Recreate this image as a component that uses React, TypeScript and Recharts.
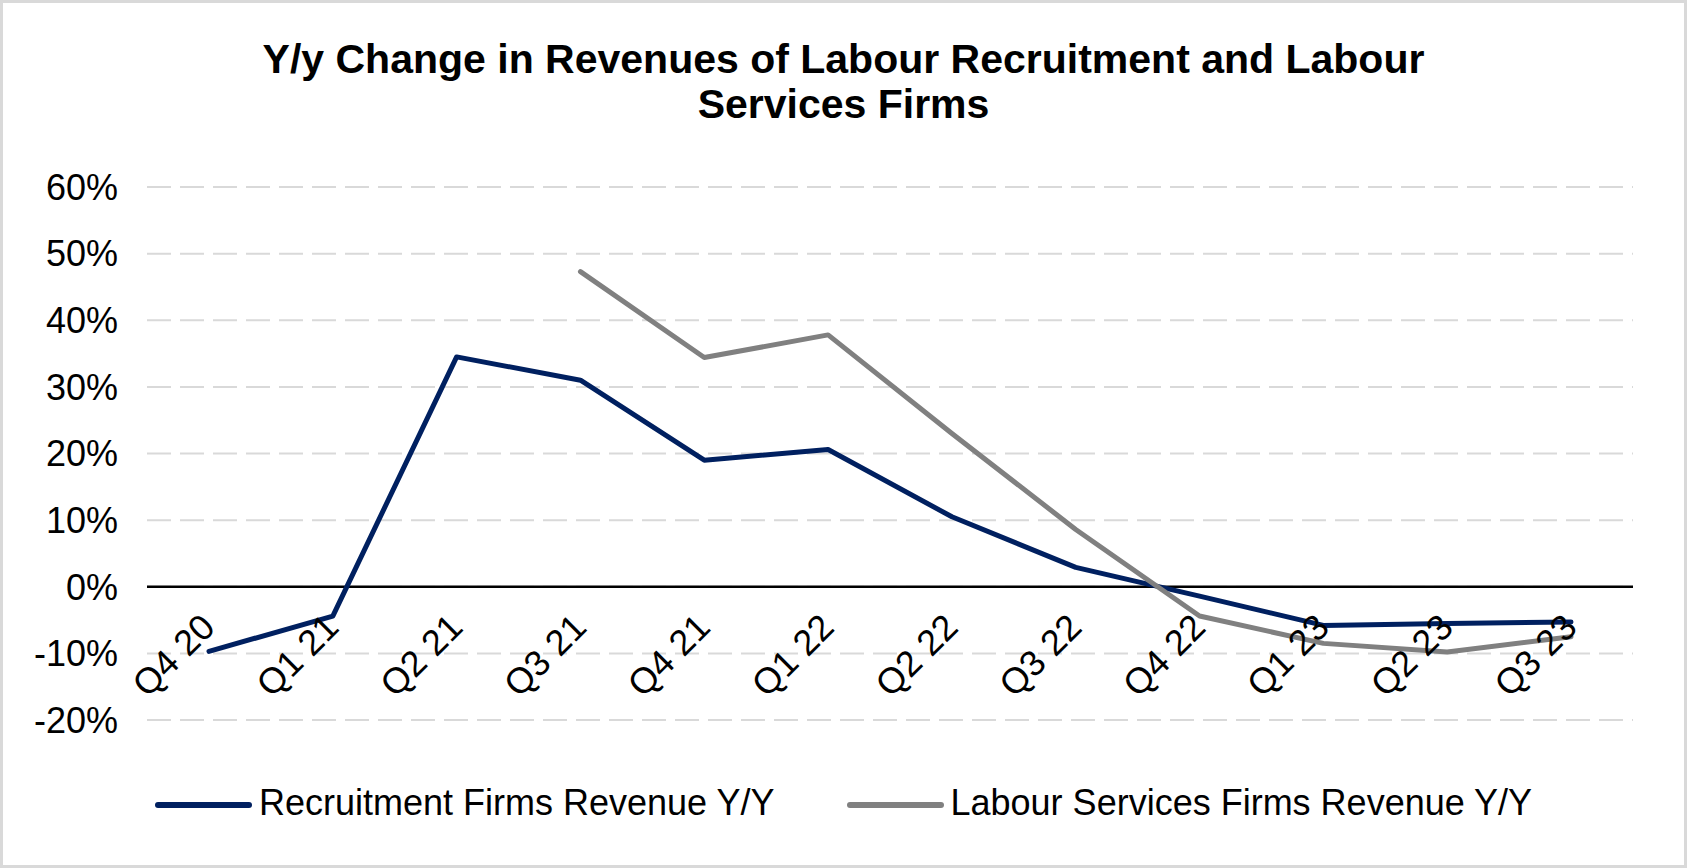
import { LineChart, Line, XAxis, YAxis, CartesianGrid, ReferenceLine } from 'recharts';

const quarters = ['Q4 20', 'Q1 21', 'Q2 21', 'Q3 21', 'Q4 21', 'Q1 22', 'Q2 22', 'Q3 22', 'Q4 22', 'Q1 23', 'Q2 23', 'Q3 23'];
const recruitmentRevenue = [-9.7, -4.4, 34.5, 31.0, 19.0, 20.6, 10.5, 2.9, -1.4, -5.8, -5.5, -5.3];
const labourServicesRevenue = [null, null, null, 47.3, 34.4, 37.8, 23.0, 8.6, -4.4, -8.5, -9.8, -7.5];
const yTicks = [-20, -10, 0, 10, 20, 30, 40, 50, 60];

const seriesNames = ['Recruitment Firms Revenue Y/Y', 'Labour Services Firms Revenue Y/Y'];
const seriesColors = ['#002060', '#808080'];
const titleLines = ['Y/y Change in Revenues of Labour Recruitment and Labour', 'Services Firms'];

const W = 1687;
const H = 868;
const FONT = "'Liberation Sans', Arial, Helvetica, sans-serif";
const MARGIN = { top: 187, right: 54, bottom: 147, left: 0 };
const PLOT_H = H - MARGIN.top - MARGIN.bottom;
const Y_MIN = yTicks[0];
const Y_MAX = yTicks[yTicks.length - 1];

const chartData = quarters.map((q, i) => ({
    quarter: q,
    recruitment: recruitmentRevenue[i],
    labour: labourServicesRevenue[i],
}));

// category labels hang just under the zero line, like Excel does
function XTick(props: any) {
    const { x, y, payload } = props;
    const zeroY = y - (PLOT_H * (0 - Y_MIN)) / (Y_MAX - Y_MIN);
    return (
        <g transform={`translate(${x - 1},${zeroY + 34}) rotate(-45)`}>
            <text x={0} y={0} dy="0.35em" textAnchor="end" fontSize={36} fontFamily={FONT} fill="#000">
                {payload.value}
            </text>
        </g>
    );
}

function YTick(props: any) {
    const { x, y, payload } = props;
    return (
        <text x={x} y={y} dy="0.355em" textAnchor="end" fontSize={36} fontFamily={FONT} fill="#000">
            {`${payload.value}%`}
        </text>
    );
}

export default function App() {
    return (
        <div style={{ position: 'absolute', left: 0, top: 0, width: W, height: H, background: '#fff', fontFamily: FONT }}>
            <div
                style={{
                    position: 'absolute',
                    left: 0,
                    top: 37,
                    width: W,
                    textAlign: 'center',
                    fontSize: 41,
                    lineHeight: '45px',
                    fontWeight: 'bold',
                    color: '#000',
                }}
            >
                {titleLines[0]}
                <br />
                {titleLines[1]}
            </div>

            <div style={{ position: 'absolute', left: 0, top: 0 }}>
                <LineChart width={W} height={H} data={chartData} margin={MARGIN}>
                    <CartesianGrid vertical={false} stroke="#d9d9d9" strokeWidth={2} strokeDasharray="24 9" />
                    <XAxis
                        dataKey="quarter"
                        interval={0}
                        axisLine={false}
                        tickLine={false}
                        tickSize={0}
                        tickMargin={0}
                        height={1}
                        padding={{ left: 62, right: 62 }}
                        tick={(p: any) => <XTick {...p} />}
                    />
                    <YAxis
                        domain={[Y_MIN, Y_MAX]}
                        ticks={yTicks}
                        width={147}
                        axisLine={false}
                        tickLine={false}
                        tickSize={0}
                        tickMargin={29}
                        tick={(p: any) => <YTick {...p} />}
                    />
                    <ReferenceLine y={0} stroke="#000" strokeWidth={2.5} />
                    <Line
                        type="linear"
                        dataKey="recruitment"
                        name={seriesNames[0]}
                        stroke={seriesColors[0]}
                        strokeWidth={5}
                        strokeLinejoin="round"
                        strokeLinecap="round"
                        dot={false}
                        activeDot={false}
                        isAnimationActive={false}
                    />
                    <Line
                        type="linear"
                        dataKey="labour"
                        name={seriesNames[1]}
                        stroke={seriesColors[1]}
                        strokeWidth={5}
                        strokeLinejoin="round"
                        strokeLinecap="round"
                        dot={false}
                        activeDot={false}
                        isAnimationActive={false}
                    />
                </LineChart>
            </div>

            <div
                style={{
                    position: 'absolute',
                    left: 154,
                    top: 785,
                    display: 'flex',
                    alignItems: 'center',
                    gap: 71,
                    fontSize: 36,
                    lineHeight: '36px',
                    color: '#000',
                    whiteSpace: 'nowrap',
                }}
            >
                {seriesNames.map((name, i) => (
                    <div key={name} style={{ display: 'flex', alignItems: 'center' }}>
                        <svg width={99} height={10} style={{ position: 'relative', top: 2, marginRight: 6 }}>
                            <line x1={4} y1={5} x2={95} y2={5} stroke={seriesColors[i]} strokeWidth={6} strokeLinecap="round" />
                        </svg>
                        <span>{name}</span>
                    </div>
                ))}
            </div>

            <div
                style={{
                    position: 'absolute',
                    left: 0,
                    top: 0,
                    width: W,
                    height: H,
                    boxSizing: 'border-box',
                    border: '3px solid #d9d9d9',
                    pointerEvents: 'none',
                }}
            />
        </div>
    );
}
